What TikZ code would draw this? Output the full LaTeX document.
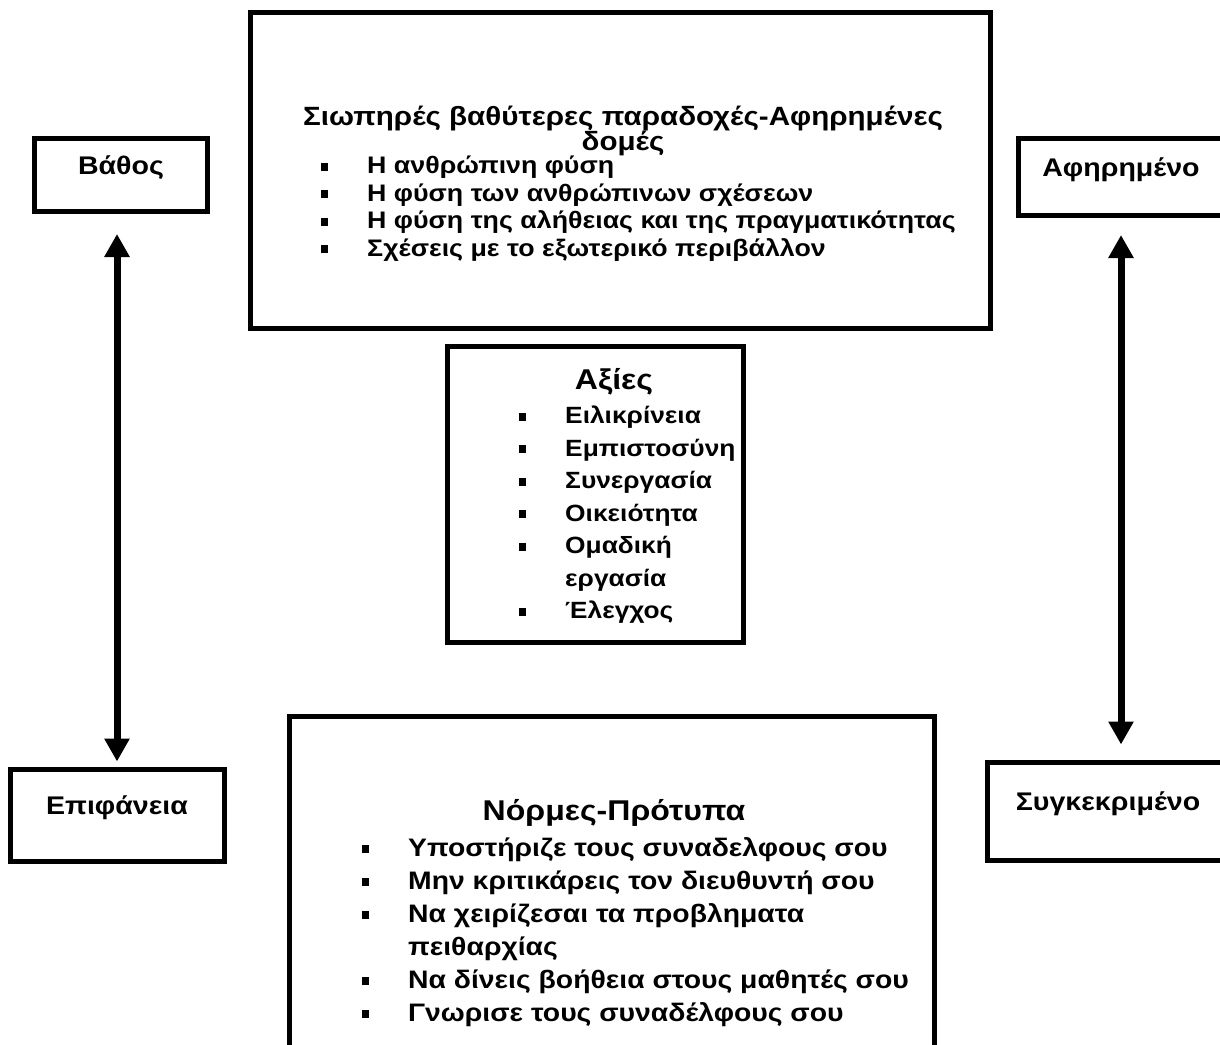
\documentclass[tikz,border=0pt]{standalone}
\usepackage{fontspec}
\setmainfont{Liberation Sans}[FakeStretch=1.12]
\usetikzlibrary{arrows.meta}

\newcommand{\itm}{\llap{\rule[3pt]{7pt}{8pt}\hspace{39pt}}}

\begin{document}
\begin{tikzpicture}[x=1pt, y=-1pt,
	frame/.style={draw, line width=5pt, inner sep=0pt},
	tag/.style={frame, font=\bfseries\fontsize{25.5}{28}\selectfont, text height=15pt, text depth=17pt},
	head/.style={inner sep=0pt, align=center},
	items/.style={inner sep=0pt, anchor=north west, align=left},
	twoway/.style={line width=7pt, {Triangle[length=23pt, width=24pt]}-{Triangle[length=23pt, width=24pt]}}]

\useasboundingbox (0,0) rectangle (1220,1044);
\clip (0,0) rectangle (1220,1044);

% boxes
\node[frame, minimum width=740pt, minimum height=316pt] (assume) at (620,170) {};
\node[frame, minimum width=296pt, minimum height=296pt] (values) at (595,494) {};
\node[frame, minimum width=645pt, minimum height=360pt] (norms) at (612,896) {};

\node[tag, minimum width=173pt, minimum height=73pt] (depth) at (121,175) {Βάθος};
\node[tag, minimum width=214pt, minimum height=92pt] (surface) at (117,815) {Επιφάνεια};
\node[tag, minimum width=206pt, minimum height=77pt] (abstract) at (1121,177) {Αφηρημένο};
\node[tag, minimum width=242pt, minimum height=98pt] (concrete) at (1108,811) {Συγκεκριμένο};

% texts
\node[head, font=\bfseries\fontsize{26.4}{25.5}\selectfont] (assumehead) at (623,131)
	{Σιωπηρές βαθύτερες παραδοχές-Αφηρημένες\\δομές};
\node[items, font=\bfseries\fontsize{23.9}{27.5}\selectfont] (assumelist) at (367,156)
	{\itm Η ανθρώπινη φύση\\
	\itm Η φύση των ανθρώπινων σχέσεων\\
	\itm Η φύση της αλήθειας και της πραγματικότητας\\
	\itm Σχέσεις με το εξωτερικό περιβάλλον};

\node[head, font=\bfseries\fontsize{28.6}{28}\selectfont] (valueshead) at (614,382) {Αξίες};
\node[items, font=\bfseries\fontsize{23.5}{32.5}\selectfont] (valueslist) at (565,406)
	{\itm Ειλικρίνεια\\
	\itm Εμπιστοσύνη\\
	\itm Συνεργασία\\
	\itm Οικειότητα\\
	\itm Ομαδική\\
	εργασία\\
	\itm Έλεγχος};

\node[head, font=\bfseries\fontsize{28.6}{28}\selectfont] (normshead) at (614,813) {Νόρμες-Πρότυπα};
\node[items, font=\bfseries\fontsize{25.3}{33}\selectfont] (normslist) at (408,837)
	{\itm Υποστήριζε τους συναδελφους σου\\
	\itm Μην κριτικάρεις τον διευθυντή σου\\
	\itm Να χειρίζεσαι τα προβληματα\\
	πειθαρχίας\\
	\itm Να δίνεις βοήθεια στους μαθητές σου\\
	\itm Γνωρισε τους συναδέλφους σου};

% arrows
\draw[twoway, shorten <=20pt, shorten >=5pt] (surface.north |- depth.south) -- (surface.north);
\draw[twoway, shorten <=17pt, shorten >=15pt] (abstract.south) -- (abstract.south |- concrete.north);

\end{tikzpicture}
\end{document}
